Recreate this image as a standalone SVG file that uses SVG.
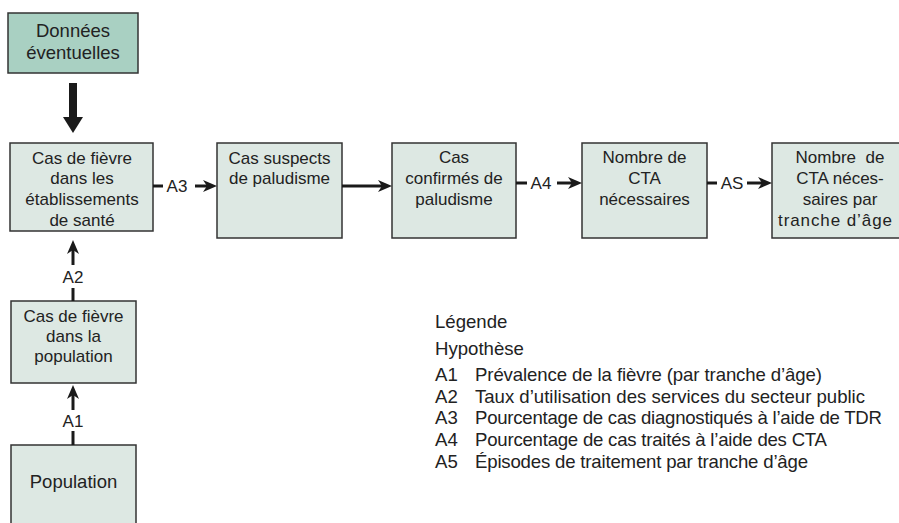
<svg xmlns="http://www.w3.org/2000/svg" width="899" height="523" viewBox="0 0 899 523">
  <defs>
    <style>
      .box { fill: #dde8e3; stroke: #333333; stroke-width: 1.5; }
      .box.src { fill: #a9d0c2; }
      .lbl { font-family: "Liberation Sans", Arial, Helvetica, sans-serif; font-size: 17px; fill: #222222; text-anchor: middle; }
      .big { font-size: 18.5px; }
      .conn { stroke: #1a1a1a; stroke-width: 3; fill: none; }
      .leg { font-family: "Liberation Sans", Arial, Helvetica, sans-serif; font-size: 18.6px; fill: #222222; }
    </style>
    <marker id="head" viewBox="0 0 14 12" refX="4" refY="6" markerWidth="14" markerHeight="12" markerUnits="userSpaceOnUse" orient="auto">
      <path d="M0,0 L14,6 L0,12 L4,6 z" fill="#1a1a1a"/>
    </marker>
  </defs>

  <rect width="899" height="523" fill="#ffffff"/>

  <!-- nodes -->
  <g id="donnees">
    <rect class="box src" x="8" y="13" width="130" height="60"/>
    <text class="lbl big" x="73" y="37">Données</text>
    <text class="lbl big" x="73" y="59">éventuelles</text>
  </g>

  <g id="fievre-etablissements">
    <rect class="box" x="10" y="143" width="143" height="88"/>
    <text class="lbl" x="82" y="164">Cas de fièvre</text>
    <text class="lbl" x="82" y="184">dans les</text>
    <text class="lbl" x="82" y="205">établissements</text>
    <text class="lbl" x="82" y="226">de santé</text>
  </g>

  <g id="cas-suspects">
    <rect class="box" x="217" y="143" width="125" height="95"/>
    <text class="lbl" x="279.5" y="164">Cas suspects</text>
    <text class="lbl" x="279.5" y="184">de paludisme</text>
  </g>

  <g id="cas-confirmes">
    <rect class="box" x="392" y="143" width="124" height="95"/>
    <text class="lbl" x="454" y="163">Cas</text>
    <text class="lbl" x="454" y="184">confirmés de</text>
    <text class="lbl" x="454" y="205">paludisme</text>
  </g>

  <g id="nombre-cta">
    <rect class="box" x="582" y="143" width="125" height="95"/>
    <text class="lbl" x="644.5" y="163">Nombre de</text>
    <text class="lbl" x="644.5" y="184">CTA</text>
    <text class="lbl" x="644.5" y="205">nécessaires</text>
  </g>

  <g id="cta-par-age">
    <rect class="box" x="772" y="143" width="140" height="95"/>
    <text class="lbl" x="840" y="163" xml:space="preserve">Nombre  de</text>
    <text class="lbl" x="840" y="184">CTA néces-</text>
    <text class="lbl" x="840" y="205">saires par</text>
    <text class="lbl" x="835" y="226" textLength="114" lengthAdjust="spacing">tranche d’âge</text>
  </g>

  <g id="fievre-population">
    <rect class="box" x="11" y="301" width="125" height="82"/>
    <text class="lbl" x="73.5" y="322">Cas de fièvre</text>
    <text class="lbl" x="73.5" y="342">dans la</text>
    <text class="lbl" x="73.5" y="362">population</text>
  </g>

  <g id="population">
    <rect class="box" x="11" y="445" width="125" height="90"/>
    <text class="lbl big" x="73.5" y="488">Population</text>
  </g>

  <!-- connectors -->
  <g id="connectors">
    <!-- heavy arrow from the optional data box -->
    <path d="M69,83 L77,83 L77,117 L83,117 L73,133 L63,117 L69,117 z" fill="#1a1a1a"/>

    <!-- A1 -->
    <line class="conn" x1="73" y1="445" x2="73" y2="431"/>
    <line class="conn" x1="73" y1="410" x2="73" y2="395" marker-end="url(#head)"/>
    <text class="lbl" x="73" y="427">A1</text>

    <!-- A2 -->
    <line class="conn" x1="73" y1="301" x2="73" y2="288"/>
    <line class="conn" x1="73" y1="265" x2="73" y2="250" marker-end="url(#head)"/>
    <text class="lbl" x="73" y="283">A2</text>

    <!-- A3 -->
    <line class="conn" x1="153" y1="186" x2="163" y2="186"/>
    <text class="lbl" x="177" y="192">A3</text>
    <line class="conn" x1="195" y1="186" x2="207" y2="186" marker-end="url(#head)"/>

    <!-- suspects to confirmed -->
    <line class="conn" x1="342" y1="186" x2="382" y2="186" marker-end="url(#head)"/>

    <!-- A4 -->
    <line class="conn" x1="516" y1="183" x2="527" y2="183"/>
    <text class="lbl" x="541" y="189">A4</text>
    <line class="conn" x1="557" y1="183" x2="572" y2="183" marker-end="url(#head)"/>

    <!-- A5 (printed AS) -->
    <line class="conn" x1="707" y1="183" x2="717" y2="183"/>
    <text class="lbl" x="732" y="189">AS</text>
    <line class="conn" x1="747" y1="183" x2="762" y2="183" marker-end="url(#head)"/>
  </g>

  <!-- legend -->
  <g id="legende" class="leg">
    <text x="435" y="328">Légende</text>
    <text x="435" y="355">Hypothèse</text>
    <text x="435" y="381">A1</text>
    <text x="475" y="381" textLength="347" lengthAdjust="spacing">Prévalence de la fièvre (par tranche d’âge)</text>
    <text x="435" y="403">A2</text>
    <text x="475" y="403" textLength="390" lengthAdjust="spacing">Taux d’utilisation des services du secteur public</text>
    <text x="435" y="424">A3</text>
    <text x="475" y="424" textLength="407" lengthAdjust="spacing">Pourcentage de cas diagnostiqués à l’aide de TDR</text>
    <text x="435" y="446">A4</text>
    <text x="475" y="446" textLength="352" lengthAdjust="spacing">Pourcentage de cas traités à l’aide des CTA</text>
    <text x="435" y="468">A5</text>
    <text x="475" y="468" textLength="333" lengthAdjust="spacing">Épisodes de traitement par tranche d’âge</text>
  </g>
</svg>
